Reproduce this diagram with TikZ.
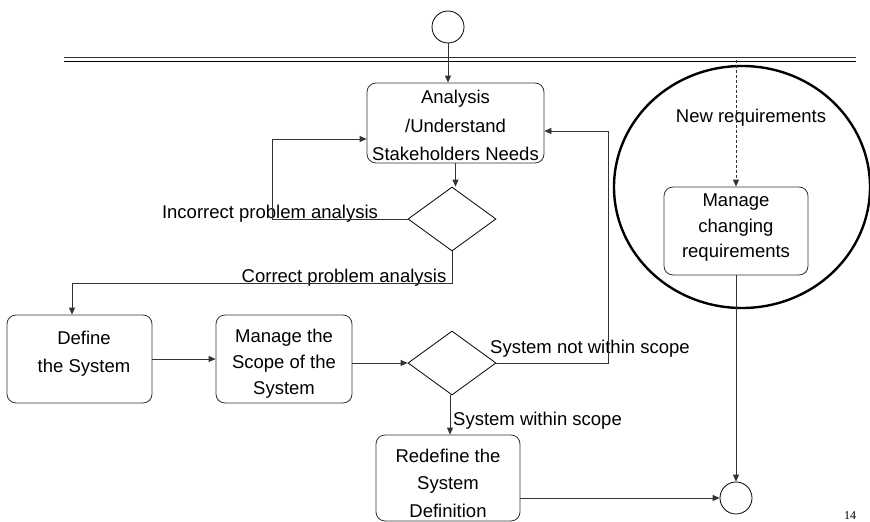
\documentclass[tikz,border=0pt]{standalone}
\usepackage{fontspec}
\setmainfont{Liberation Sans}
\newfontfamily\pagenumfont{Liberation Serif}
\usetikzlibrary{arrows.meta,shapes.geometric}
\tikzset{
  box/.style={draw=black!80, line width=0.8pt, rounded corners=9pt, inner sep=0pt},
  txt/.style={align=center, inner sep=0pt, font=\fontsize{18.5}{28.5}\selectfont},
  lbl/.style={inner sep=0pt, font=\fontsize{18.5}{22}\selectfont},
  dec/.style={draw=black, line width=0.8pt, diamond, inner sep=0pt, minimum width=88pt, minimum height=64pt},
  term/.style={draw=black, line width=0.8pt, circle, inner sep=0pt, minimum size=32pt},
  arr/.style={draw=black!80, line width=0.8pt, -{Triangle[length=7pt,width=6pt]}},
}
\begin{document}
\begin{tikzpicture}[x=1pt,y=-1pt]
\useasboundingbox (0,0) rectangle (870,522);
\fill[white] (0,0) rectangle (870,522);

% swimlane double line
\draw[line width=1.3pt, black!80] (64,57.5) -- (856,57.5);
\draw[line width=1.3pt, black] (64,61.2) -- (856,61.2);

% nodes
\node[term] (start) at (448,27) {};
\node[box, minimum width=177pt, minimum height=80pt] (ana) at (455.5,123) {};
\node[txt] (anaT) at (455.5,125.5) {Analysis\\/Understand\\Stakeholders Needs};
\node[dec] (d1) at (452,219) {};
\node[box, minimum width=145pt, minimum height=88pt] (def) at (79.5,359) {};
\node[txt] (defT) at (84,353.5) {Define\\the System};
\node[box, minimum width=136pt, minimum height=88pt] (mgs) at (284,359) {};
\node[txt, font=\fontsize{18.5}{26}\selectfont] (mgsT) at (284,364) {Manage the\\Scope of the\\System};
\node[dec] (d2) at (452,363) {};
\node[box, minimum width=144pt, minimum height=86pt] (red) at (448,478) {};
\node[txt, font=\fontsize{18.5}{27.5}\selectfont] (redT) at (448,483) {Redefine the\\System\\Definition};
\node[box, minimum width=144pt, minimum height=88pt] (mcr) at (736,231) {};
\node[txt, font=\fontsize{18.5}{25.5}\selectfont] (mcrT) at (736,228) {Manage\\changing\\requirements};
\node[term] (end) at (736,498) {};

% change ellipse
\draw[line width=2.4pt] (742,187) ellipse [x radius=128, y radius=121];

% labels
\node[lbl, anchor=base] (l1) at (270,218) {Incorrect problem analysis};
\node[lbl, anchor=base] (l2) at (344,282) {Correct problem analysis};
\node[lbl, anchor=base west] (l3) at (490,353) {System not within scope};
\node[lbl, anchor=base west] (l4) at (453,425) {System within scope};
\node[lbl, anchor=base] (l5) at (751,122) {New requirements};
\node[inner sep=0pt, anchor=base west, font=\pagenumfont\fontsize{12}{12}\selectfont] (pg) at (844,519) {14};

% connectors
\coordinate (c1) at (272,139);
\coordinate (c2) at (72,283);
\coordinate (c3) at (608,131);
\coordinate (c4) at (736,59.5);
\draw[arr] (start.south) -- (start.south |- ana.north);
\draw[arr] (ana.south) -- (ana.south |- d1.north);
\draw[arr] (d1.west) -| (c1) -- (c1 -| ana.west);
\draw[arr] (d1.south) |- (c2) -- (c2 |- def.north);
\draw[arr] (def.east) -- (mgs.west);
\draw[arr] (mgs.east |- d2.west) -- (d2.west);
\draw[arr] (d2.east) -| (c3) -- (c3 -| ana.east);
\draw[arr] ([xshift=-2pt]d2.south) -- ([xshift=-2pt]d2.south |- red.north);
\draw[arr] (red.east |- end.west) -- (end.west);
\draw[arr] (mcr.south) -- (end.north);
\draw[arr, dashed, dash pattern=on 3pt off 2pt] (c4) -- (mcr.north);
\end{tikzpicture}
\end{document}
